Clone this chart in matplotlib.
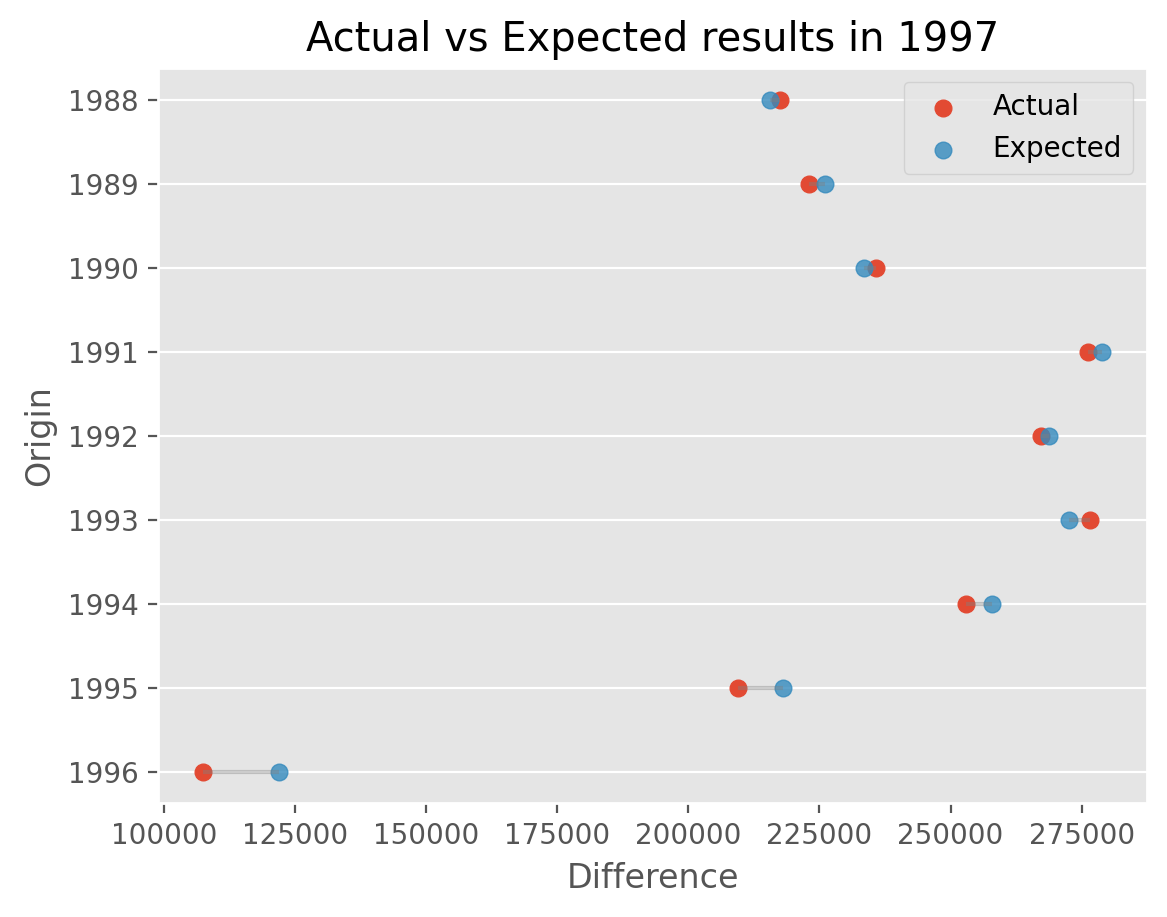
import matplotlib
matplotlib.use("Agg")
import matplotlib.pyplot as plt

plt.style.use("ggplot")

origin = [1988, 1989, 1990, 1991, 1992, 1993, 1994, 1995, 1996]
actual = [217520, 223020, 235880, 276220, 267290, 276600, 252850, 209560, 107470]
expected = [215560, 226060, 233410, 278880, 268810, 272610, 257980, 218110, 122000]

W, H = 1167, 917
fig = plt.figure(figsize=(W / 200, H / 200), dpi=200)
ax = fig.add_axes([158 / W, 1 - 803 / H, (1147 - 158) / W, (803 - 68) / H])

ax.scatter(actual, origin, color="#E24A33", alpha=1.0, label="Actual", zorder=2)
ax.scatter(expected, origin, color="#348ABD", alpha=0.8, label="Expected", zorder=3)
ax.hlines(y=origin, xmin=actual, xmax=expected, color="grey", alpha=0.4, zorder=4)

ax.set_yticks(origin)
ax.set_yticklabels([str(o) for o in origin])
ax.set_ylim(origin[-1] + 0.37, origin[0] - 0.38)
ax.grid(axis="x", visible=False)
ax.set_xlabel("Difference")
ax.set_ylabel("Origin")
ax.set_title("Actual vs Expected results in 1997")
ax.legend(loc="upper right")

fig.savefig("out.png", dpi=200)
